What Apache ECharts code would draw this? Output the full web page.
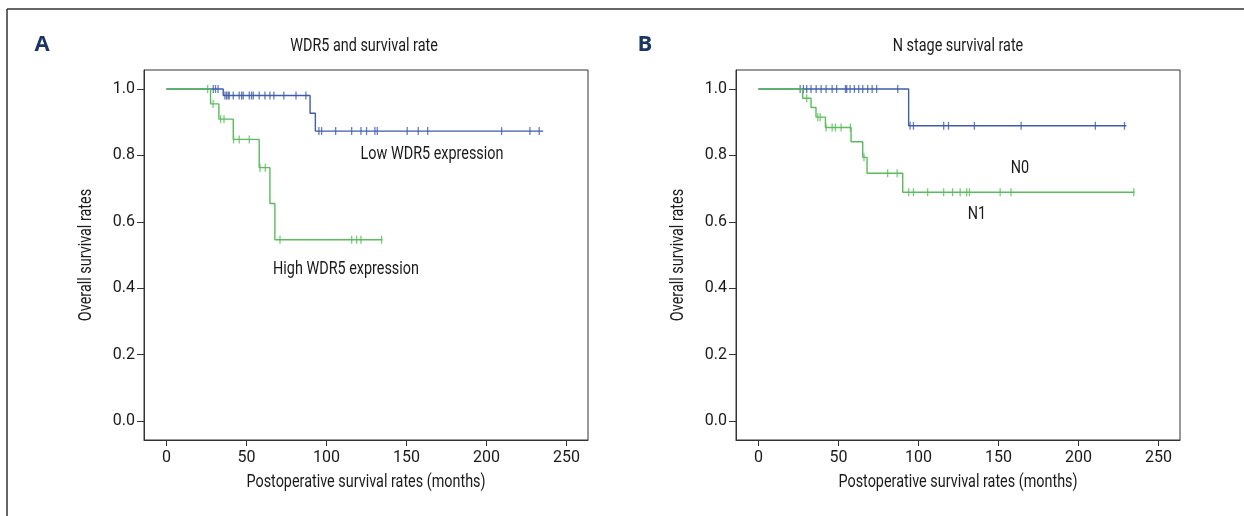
<!DOCTYPE html>
<html>
<head>
<meta charset="utf-8">
<title>WDR5 survival curves</title>
<script src="https://cdn.jsdelivr.net/npm/echarts@6/dist/echarts.min.js"></script>
<style>
  html, body { margin: 0; padding: 0; background: #fff; }
  #chart { width: 1244px; height: 516px; }
</style>
</head>
<body>
<div id="chart"></div>
<script>
// Kaplan-Meier curves (months, survival)
const xTicks = [0, 50, 100, 150, 200, 250];
const yTicks = [0, 0.2, 0.4, 0.6, 0.8, 1.0];

// Panel A - WDR5 expression
const lowTimes = [0, 35.5, 89.8, 93.1, 235.5];
const lowSurv = [1, 0.98, 0.927, 0.873, 0.873];
const lowCensor = [29.3, 30.7, 32.3, 36.6, 37.6, 38.6, 39.3, 41.8, 45.5, 47, 48, 51.8, 53.2, 54.3, 58, 61.6,
    64.7, 67.2, 73.4, 81, 87.2, 95.3, 97, 105.8, 115.8, 121.6, 125.1, 130.3, 131.8, 150.5, 157.4, 163.3,
    209.5, 227.2, 233];

const highTimes = [0, 27.6, 32.8, 41.8, 58, 64.7, 67.8, 135];
const highSurv = [1, 0.955, 0.909, 0.848, 0.763, 0.655, 0.546, 0.546];
const highCensor = [25.8, 29.2, 33.9, 36, 42, 45.5, 51.8, 58.5, 61.8, 71, 115.8, 118.9, 121.6, 134.5];

// Panel B - N stage
const n0Times = [0, 93.9, 230];
const n0Surv = [1, 0.889, 0.889];
const n0Censor = [26.1, 28.1, 30.2, 32.9, 36.1, 39.2, 42.3, 46.1, 48.9, 54.4, 55.2, 57.3, 60, 62.7, 65.2,
    68.3, 71.1, 73.9, 87.1, 94.8, 96.9, 115.8, 118.8, 135, 164.2, 210.6, 228.8];

const n1Times = [0, 27.7, 32.9, 36, 41.9, 57.9, 65.2, 67.9, 90.2, 235];
const n1Surv = [1, 0.972, 0.944, 0.915, 0.884, 0.841, 0.794, 0.746, 0.689, 0.689];
const n1Censor = [30.2, 37.1, 38.6, 42.3, 46.1, 48.1, 51.7, 57.5, 66, 80.8, 86.7, 93.9, 96.9, 105.8, 115.8,
    121.4, 126.1, 130.2, 131.9, 151.1, 157.9, 234.6];

const BLUE = '#3d5daa';
const GREEN = '#58bd5a';
const TEXT = '#1a1a1a';
const FONT = 'Roboto, "Noto Sans", sans-serif';
const SQUEEZE = 0.8;   // the original uses a condensed face

// value of the step curve at time t
function survivalAt(times, surv, t) {
    let s = surv[0];
    for (let i = 0; i < times.length; i++) {
        if (times[i] <= t) s = surv[i];
    }
    return s;
}

function curveSeries(idx, times, surv, color) {
    return {
        type: 'line',
        xAxisIndex: idx,
        yAxisIndex: idx,
        step: 'end',
        symbol: 'none',
        lineStyle: { color: color, width: 1.4 },
        data: times.map((t, i) => [t, surv[i]]),
        silent: true
    };
}

function censorSeries(idx, times, surv, censor, color) {
    return {
        type: 'scatter',
        xAxisIndex: idx,
        yAxisIndex: idx,
        symbol: 'rect',
        symbolSize: [1.3, 8],
        itemStyle: { color: color },
        data: censor.map(t => [t, survivalAt(times, surv, t)]),
        silent: true
    };
}

function xAxis(idx) {
    return {
        gridIndex: idx,
        type: 'value',
        min: -14,
        max: 263.5,
        axisLine: { show: true, onZero: false, lineStyle: { color: '#333', width: 1 } },
        axisTick: { show: true, inside: false, length: 6, customValues: xTicks, lineStyle: { color: '#333' } },
        axisLabel: { customValues: xTicks, color: TEXT, fontSize: 16, fontFamily: FONT, margin: 10 },
        splitLine: { show: false }
    };
}

function yAxis(idx) {
    return {
        gridIndex: idx,
        type: 'value',
        min: -0.057,
        max: 1.057,
        axisLine: { show: true, onZero: false, lineStyle: { color: '#333', width: 1 } },
        axisTick: { show: true, inside: false, length: 7, customValues: yTicks, lineStyle: { color: '#333' } },
        axisLabel: {
            customValues: yTicks, color: TEXT, fontSize: 16, fontFamily: FONT, margin: 9,
            formatter: v => v.toFixed(1)
        },
        splitLine: { show: false }
    };
}

// condensed text drawn around its centre
function label(text, x, y, size, rotation) {
    return {
        type: 'text',
        x: x,
        y: y,
        rotation: rotation || 0,
        scaleX: SQUEEZE,
        style: {
            text: text,
            fill: TEXT,
            font: size + 'px ' + FONT,
            textAlign: 'center',
            textVerticalAlign: 'middle'
        },
        silent: true
    };
}

const chart = echarts.init(document.getElementById('chart'), null, { renderer: 'canvas' });

const option = {
    backgroundColor: '#fff',
    animation: false,
    grid: [
        { left: 144, top: 70, width: 444, height: 370, show: true, borderColor: '#333', borderWidth: 1 },
        { left: 736, top: 70, width: 444, height: 370, show: true, borderColor: '#333', borderWidth: 1 }
    ],
    xAxis: [xAxis(0), xAxis(1)],
    yAxis: [yAxis(0), yAxis(1)],
    graphic: [
        // outer frame
        { type: 'line', shape: { x1: 7, y1: 9, x2: 1244, y2: 9 }, style: { stroke: '#333', lineWidth: 1.5 } },
        { type: 'line', shape: { x1: 7, y1: 9, x2: 7, y2: 516 }, style: { stroke: '#333', lineWidth: 1.5 } },
        { type: 'text', x: 42, y: 45, style: { text: 'A', fill: '#1c3664', font: 'bold 22px "Open Sans", sans-serif', textAlign: 'center', textVerticalAlign: 'middle' } },
        { type: 'text', x: 645, y: 45, style: { text: 'B', fill: '#1c3664', font: 'bold 22px "Open Sans", sans-serif', textAlign: 'center', textVerticalAlign: 'middle' } },
        label('WDR5 and survival rate', 364, 46, 18),
        label('N stage survival rate', 958, 46, 18),
        label('Low WDR5 expression', 432, 154, 18),
        label('High WDR5 expression', 346, 269, 18),
        label('N0', 1020, 168, 18),
        label('N1', 977, 214, 18),
        label('Postoperative survival rates (months)', 366, 482, 18),
        label('Postoperative survival rates (months)', 958, 482, 18),
        label('Overall survival rates', 86, 255, 18, Math.PI / 2),
        label('Overall survival rates', 678, 255, 18, Math.PI / 2)
    ],
    series: [
        curveSeries(0, lowTimes, lowSurv, BLUE),
        censorSeries(0, lowTimes, lowSurv, lowCensor, BLUE),
        curveSeries(0, highTimes, highSurv, GREEN),
        censorSeries(0, highTimes, highSurv, highCensor, GREEN),
        curveSeries(1, n0Times, n0Surv, BLUE),
        censorSeries(1, n0Times, n0Surv, n0Censor, BLUE),
        curveSeries(1, n1Times, n1Surv, GREEN),
        censorSeries(1, n1Times, n1Surv, n1Censor, GREEN)
    ]
};

chart.setOption(option);
</script>
</body>
</html>
